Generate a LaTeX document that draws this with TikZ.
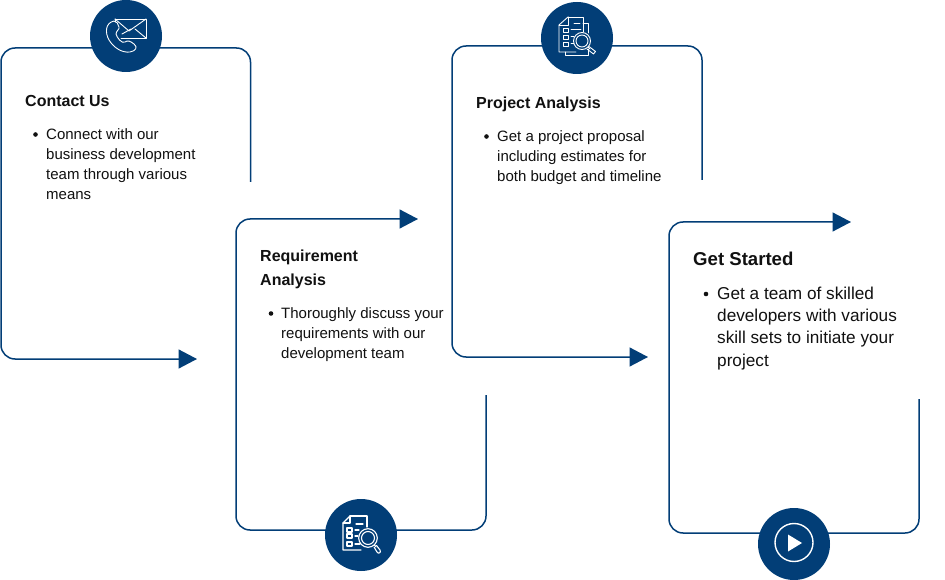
\documentclass[tikz,border=0pt]{standalone}
\usepackage{fontspec}
\setmainfont{Liberation Sans}
\usetikzlibrary{arrows.meta}
\definecolor{navy}{HTML}{023E77}
\definecolor{ink}{HTML}{111111}
\tikzset{
  x=1pt,y=-1pt,
  flow/.style={draw=navy,line width=1.5pt,rounded corners=14pt,-{Triangle[length=18.5pt,width=19pt,fill=navy]}},
  badge/.style={circle,fill=navy,draw=none,minimum size=72pt,inner sep=0pt},
  heading/.style={anchor=base west,inner sep=0pt,text=ink,font=\fontsize{16}{24}\selectfont\bfseries,align=left},
  bigheading/.style={heading,font=\fontsize{18.6}{24}\selectfont\bfseries},
  body/.style={anchor=base west,inner sep=0pt,text=ink,font=\fontsize{15}{20}\selectfont,align=left},
  bigbody/.style={body,font=\fontsize{17.2}{22.3}\selectfont},
  dotmark/.style={circle,fill=ink,draw=none,minimum size=4.6pt,inner sep=0pt},
  glyph/.style={draw=white,line width=.9pt,line join=round,line cap=round},
}
\begin{document}
\begin{tikzpicture}
\useasboundingbox (0,0) rectangle (945,580);
\fill[white] (0,0) rectangle (945,580);

% Step frames, each ending in an arrow towards the next step
\coordinate (s1) at (250.5,182); \coordinate (e1) at (197,359);
\coordinate (s2) at (486,395);   \coordinate (e2) at (418,219);
\coordinate (s3) at (702,180);   \coordinate (e3) at (648,357);
\coordinate (s4) at (919,399);   \coordinate (e4) at (851,222);
\draw[flow] (s1) -- (250.5,48) -- (1,48) -- (1,359) -- (e1);
\draw[flow] (s2) -- (486,530) -- (236,530) -- (236,219) -- (e2);
\draw[flow] (s3) -- (702,46) -- (452,46) -- (452,357) -- (e3);
\draw[flow] (s4) -- (919,533) -- (669,533) -- (669,222) -- (e4);

% Badges
\node[badge] (b1) at (126,36) {};
\node[badge] (b2) at (577,38) {};
\node[badge] (b3) at (361,535) {};
\node[badge] (b4) at (794,544) {};

% Envelope and handset
\begin{scope}[glyph,shift={(b1.center)}]
  \draw (-11,-17) -- (20,-17) -- (20,2) -- (-5,2);
  \draw (-11,-17) -- (3,-5) -- (20,-17);
  \draw (-11,-17) -- (-11,-14);
  \draw (-4,-2) -- (5,-7);
  \draw (20,2) -- (9,-7);
  \draw (-12,-15) .. controls (-21,-13) and (-21,-3) .. (-17,4)
        .. controls (-12,12) and (-4,17) .. (4,16)
        .. controls (10,15) and (12,11) .. (8,8)
        .. controls (4,5) and (2,4) .. (-1,6)
        .. controls (-4,8) and (-9,2) .. (-10,-2)
        .. controls (-10,-5) and (-6,-7) .. (-7,-9)
        .. controls (-8,-12) and (-9,-15) .. (-12,-15);
\end{scope}

% Checklist and magnifier
\begin{scope}[glyph,shift={(b2.center)}]
  \draw (-9,-21) -- (6,-21) -- (6,-6);
  \draw (-9,-21) -- (-18,-13) -- (-18,14) -- (-1,14);
  \draw (-9,-21) -- (-9,-13) -- (-18,-13);
  \draw (6,-15) -- (11,-15) -- (11,-5);
  \draw (11,11) -- (11,17) -- (-12,17) -- (-12,14);
  \draw (-3,-15) -- (3,-15);
  \draw (-14,-10) rectangle (-9,-6);
  \draw (-14,-3) rectangle (-9,1);
  \draw (-14,4) rectangle (-9,8);
  \draw (-6,-9) -- (4,-9);
  \draw (-6,-2) -- (-3,-2);
  \draw (-6,5) -- (-3,5);
  \draw (5,3) circle[radius=8.5];
  \draw (5,3) circle[radius=6];
  \draw (11,9) -- (13,11);
  \draw (12,8.5) -- (18.5,13.5) -- (16.5,16) -- (10,11);
\end{scope}

% Form and magnifier
\begin{scope}[glyph,line width=1.1pt,shift={(b3.center)}]
  \draw (-11,-19) -- (-18,-12) -- (-18,15) -- (0,15);
  \draw (-11,-19) -- (6,-19) -- (6,-8);
  \draw (-11,-19) -- (-11,-12) -- (-18,-12);
  \draw (-5,-11) -- (2,-11);
  \draw (-14,-7) rectangle (-9,-3);
  \draw (-14,-1) rectangle (-9,3);
  \draw (-14,7) rectangle (-9,11);
  \draw (-6,-5) -- (-2,-5);
  \draw (-6,1) -- (-3,1);
  \draw (-6,9) -- (-1,9);
  \draw (7,3) circle[radius=9.3];
  \draw (7,3) circle[radius=6.5];
  \draw (13.5,10) -- (15,12);
  \draw (13,12) -- (16,17) .. controls (17.5,19.5) and (20.5,17.5) .. (19,15) -- (15.5,10.5);
\end{scope}

% Play button
\begin{scope}[shift={(b4.center)}]
  \draw[white,line width=1.4pt] (0,-1.5) circle[radius=19];
  \fill[white] (-6,-9.5) -- (8,-1) -- (-6,7.5) -- cycle;
\end{scope}

% Contact Us
\node[heading] (t1) at (25,106.5) {Contact Us};
\node[dotmark] (d1) at (35.5,134.5) {};
\node[body] (x1) at (46,200) {Connect with our\\business development\\team through various\\means};

% Requirement Analysis
\node[heading] (t2) at (260,285) {Requirement\\Analysis};
\node[dotmark] (d2) at (271,313.5) {};
\node[body] (x2) at (281,358.5) {Thoroughly discuss your\\requirements with our\\development team};

% Project Analysis
\node[heading] (t3) at (476,108.5) {Project Analysis};
\node[dotmark] (d3) at (486.5,136.5) {};
\node[body] (x3) at (497,181.5) {Get a project proposal\\including estimates for\\both budget and timeline};

% Get Started
\node[bigheading] (t4) at (693,265.5) {Get Started};
\node[dotmark] (d4) at (706,294) {};
\node[bigbody] (x4) at (717,366) {Get a team of skilled\\developers with various\\skill sets to initiate your\\project};
\end{tikzpicture}
\end{document}
